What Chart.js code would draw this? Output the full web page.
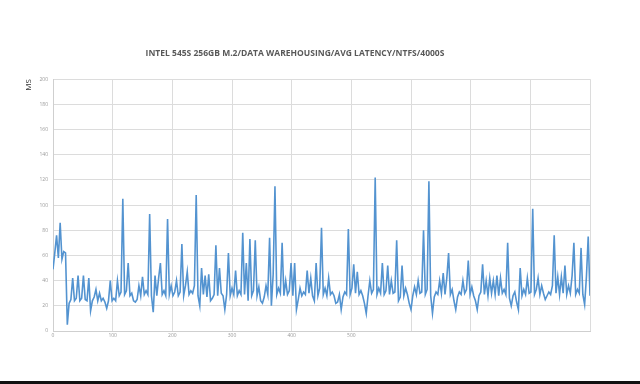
<!DOCTYPE html>
<html>
<head>
<meta charset="utf-8">
<script src="https://cdn.jsdelivr.net/npm/chart.js@4/dist/chart.umd.min.js"></script>
<style>
  html, body { margin: 0; padding: 0; background: #fff; }
  #wrap { width: 640px; height: 381px; border-bottom: 3px solid #111; }
</style>
</head>
<body>
<div id="wrap"><canvas id="latencyChart" width="640" height="381"></canvas></div>
<script>
// sample spacing along the x axis (seconds)
var sampleStep = 3;

// average latency in ms, one value per sample
var latency = [
  49, 62, 76, 58, 86, 57, 63, 62, 5, 22, 25, 42, 24, 26, 44, 24, 26, 44, 25, 24, 42, 16, 24, 27, 33, 24, 30, 24, 26, 23,
  18, 24, 40, 24, 26, 24, 40, 28, 31, 105, 29, 32, 54, 28, 30, 24, 23, 25, 36, 28, 43, 29, 32, 29, 93, 28, 15, 44, 28, 42,
  54, 29, 32, 28, 89, 29, 36, 28, 31, 40, 28, 31, 69, 28, 36, 47, 29, 32, 30, 36, 108, 28, 20, 50, 29, 44, 27, 45, 24, 26,
  29, 68, 28, 50, 30, 28, 17, 29, 62, 28, 34, 29, 48, 28, 32, 29, 78, 29, 54, 24, 73, 28, 32, 72, 28, 35, 24, 22, 27, 36,
  29, 74, 20, 45, 115, 29, 34, 30, 70, 28, 40, 29, 32, 54, 28, 54, 17, 25, 34, 28, 31, 29, 48, 30, 42, 28, 24, 54, 28, 34,
  82, 29, 34, 28, 42, 29, 31, 28, 22, 23, 29, 17, 27, 31, 29, 81, 29, 34, 53, 30, 47, 29, 32, 28, 22, 14, 28, 40, 30, 33,
  122, 29, 34, 30, 54, 29, 32, 52, 29, 40, 30, 31, 72, 24, 27, 52, 28, 34, 29, 22, 17, 28, 35, 29, 40, 30, 31, 80, 29, 33,
  119, 28, 14, 27, 31, 29, 40, 30, 46, 29, 42, 62, 29, 33, 24, 17, 27, 31, 29, 40, 30, 33, 56, 29, 35, 28, 24, 17, 28, 31,
  53, 29, 40, 28, 42, 30, 40, 29, 44, 28, 42, 30, 33, 29, 70, 26, 20, 28, 31, 23, 17, 50, 28, 33, 29, 42, 30, 31, 97, 29,
  33, 42, 29, 36, 30, 25, 28, 31, 29, 36, 76, 30, 43, 29, 43, 30, 52, 29, 36, 30, 44, 70, 29, 33, 30, 66, 29, 21, 43, 75,
  28
];

var xTickLabels = ['0', '100', '200', '300', '400', '500', '', '', '', ''];
var yTicks = [0, 20, 40, 60, 80, 100, 120, 140, 160, 180, 200];

var points = latency.map(function (v, i) { return { x: i * sampleStep, y: v }; });

var ctx = document.getElementById('latencyChart').getContext('2d');
new Chart(ctx, {
  type: 'line',
  data: {
    datasets: [{
      label: 'MS',
      data: points,
      borderColor: '#5393d0',
      borderWidth: 1.6,
      pointRadius: 0,
      fill: false,
      tension: 0
    }]
  },
  options: {
    responsive: false,
    animation: false,
    layout: { padding: { left: 0, right: 50, top: 0, bottom: 36 } },
    plugins: {
      legend: { display: false },
      tooltip: { enabled: false },
      title: {
        display: true,
        text: 'INTEL 545S 256GB M.2/DATA WAREHOUSING/AVG LATENCY/NTFS/4000S',
        color: '#595959',
        font: { family: 'Open Sans', size: 8.5, weight: 'bold' },
        padding: { top: 48, bottom: 21 }
      }
    },
    scales: {
      x: {
        type: 'linear',
        min: 0,
        max: 900,
        ticks: {
          stepSize: 100,
          color: '#9a9a9a',
          font: { family: 'Open Sans', size: 5 },
          maxRotation: 0,
          padding: 2,
          callback: function (value) { return xTickLabels[value / 100]; }
        },
        grid: { color: '#dcdcdc', lineWidth: 1, drawTicks: false },
        border: { color: '#cfcfcf' },
        afterFit: function (scale) { scale.height = 14; }
      },
      y: {
        min: 0,
        max: 200,
        afterBuildTicks: function (scale) {
          scale.ticks = yTicks.map(function (v) { return { value: v }; });
        },
        ticks: {
          color: '#9a9a9a',
          font: { family: 'Open Sans', size: 5 },
          padding: 5
        },
        title: {
          display: true,
          text: 'MS',
          align: 'end',
          color: '#333',
          font: { family: 'Open Sans', size: 8 },
          padding: { top: 24, bottom: 0 }
        },
        grid: { color: '#dcdcdc', lineWidth: 1, drawTicks: false },
        border: { color: '#cfcfcf' },
        afterFit: function (scale) { scale.width = 53; }
      }
    }
  }
});
</script>
</body>
</html>
